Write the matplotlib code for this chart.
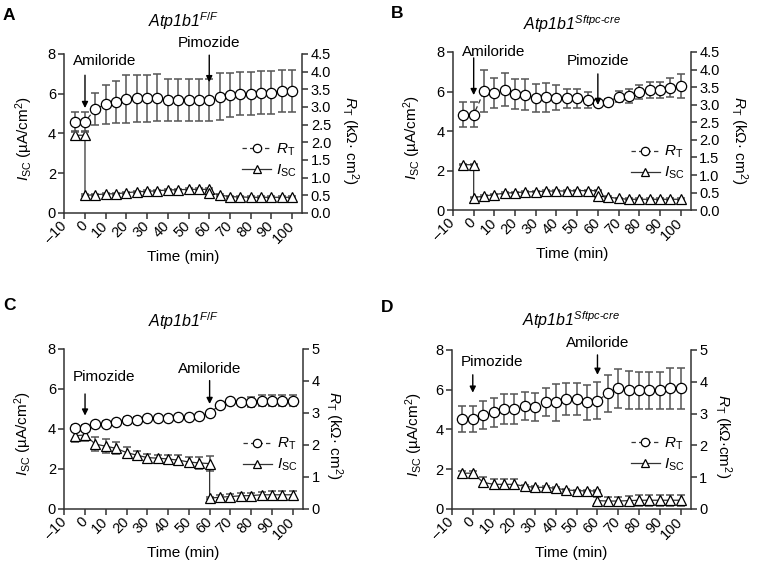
import numpy as np
import matplotlib
matplotlib.use('Agg')
import matplotlib.pyplot as plt
from matplotlib.lines import Line2D

plt.rcParams['font.family'] = ['Liberation Sans', 'DejaVu Sans']
plt.rcParams['mathtext.fontset'] = 'custom'
plt.rcParams['mathtext.rm'] = 'Liberation Sans'
plt.rcParams['mathtext.it'] = 'Liberation Sans:italic'
plt.rcParams['mathtext.bf'] = 'Liberation Sans:bold'

# time points (min)
t_rt = [-5, 0, 5, 10, 15, 20, 25, 30, 35, 40, 45, 50, 55, 60, 65, 70, 75, 80, 85, 90, 95, 100]
# amiloride at 0, pimozide at 60: two readings at 0 and at 60
t_isc_ab = [-5, 0, 0, 5, 10, 15, 20, 25, 30, 35, 40, 45, 50, 55, 60, 60, 65, 70, 75, 80, 85, 90, 95, 100]
# pimozide at 0, amiloride at 60: two readings at 60
t_isc_cd = [-5, 0, 5, 10, 15, 20, 25, 30, 35, 40, 45, 50, 55, 60, 60, 65, 70, 75, 80, 85, 90, 95, 100]

xticks = [-10, 0, 10, 20, 30, 40, 50, 60, 70, 80, 90, 100]
xticklabels = ['–10', '0', '10', '20', '30', '40', '50', '60', '70', '80', '90', '100']
yticks_left = [0, 2, 4, 6, 8]

# panel A: Atp1b1 F/F, amiloride then pimozide
rt_a = [2.58, 2.58, 2.95, 3.07, 3.14, 3.23, 3.24, 3.24, 3.26, 3.20, 3.20, 3.20, 3.20, 3.20,
        3.29, 3.34, 3.37, 3.37, 3.40, 3.40, 3.45, 3.45]
rt_a_err = [0.29, 0.29, 0.45, 0.56, 0.60, 0.68, 0.67, 0.67, 0.66, 0.60, 0.60, 0.60, 0.60, 0.60,
            0.66, 0.63, 0.61, 0.61, 0.61, 0.61, 0.59, 0.59]
isc_a = [3.91, 3.91, 0.89, 0.92, 0.96, 0.97, 1.02, 1.07, 1.09, 1.12, 1.16, 1.17, 1.19, 1.19,
         1.19, 1.02, 0.91, 0.82, 0.81, 0.79, 0.79, 0.79, 0.79, 0.79]
isc_a_err = [0.23, 0.23, 0.05, 0.05, 0.05, 0.05, 0.05, 0.05, 0.05, 0.05, 0.05, 0.05, 0.05, 0.05,
             0.05, 0.05, 0.05, 0.05, 0.05, 0.05, 0.05, 0.05, 0.05, 0.05]

# panel B: Atp1b1 Sftpc-cre, amiloride then pimozide
rt_b = [2.72, 2.72, 3.38, 3.34, 3.42, 3.30, 3.28, 3.19, 3.21, 3.20, 3.18, 3.18, 3.14, 3.05,
        3.08, 3.23, 3.26, 3.36, 3.42, 3.42, 3.48, 3.53]
rt_b_err = [0.35, 0.35, 0.60, 0.42, 0.47, 0.42, 0.44, 0.40, 0.42, 0.35, 0.26, 0.26, 0.23, 0.08,
            0.08, 0.15, 0.20, 0.20, 0.24, 0.24, 0.27, 0.34]
isc_b = [2.30, 2.30, 0.64, 0.71, 0.79, 0.86, 0.89, 0.92, 0.94, 0.96, 0.97, 0.97, 0.99, 0.99,
         0.99, 0.72, 0.66, 0.59, 0.55, 0.55, 0.55, 0.55, 0.55, 0.55]
isc_b_err = [0.04, 0.04, 0.04, 0.04, 0.04, 0.04, 0.04, 0.04, 0.04, 0.04, 0.04, 0.04, 0.04, 0.04,
             0.04, 0.04, 0.04, 0.04, 0.04, 0.04, 0.04, 0.04, 0.04, 0.04]

# panel C: Atp1b1 F/F, pimozide then amiloride
rt_c = [2.54, 2.54, 2.65, 2.65, 2.72, 2.77, 2.77, 2.83, 2.83, 2.83, 2.89, 2.89, 2.91, 2.99,
        3.26, 3.36, 3.33, 3.34, 3.39, 3.39, 3.39, 3.39]
rt_c_err = [0.10, 0.10, 0.08, 0.10, 0.04, 0.10, 0.10, 0.03, 0.03, 0.03, 0.03, 0.03, 0.03, 0.03,
            0.03, 0.03, 0.04, 0.15, 0.18, 0.18, 0.18, 0.18]
isc_c = [3.66, 3.70, 3.24, 3.14, 3.03, 2.82, 2.69, 2.57, 2.54, 2.50, 2.44, 2.35, 2.30, 2.27,
         0.54, 0.59, 0.62, 0.66, 0.67, 0.71, 0.71, 0.71, 0.71]
isc_c_err = [0.30, 0.30, 0.34, 0.34, 0.30, 0.27, 0.20, 0.17, 0.17, 0.20, 0.24, 0.27, 0.30, 0.37,
             0.05, 0.13, 0.13, 0.14, 0.15, 0.16, 0.17, 0.17, 0.17]

# panel D: Atp1b1 Sftpc-cre, pimozide then amiloride
rt_d = [2.83, 2.83, 2.97, 3.04, 3.14, 3.14, 3.25, 3.20, 3.35, 3.35, 3.46, 3.45, 3.35, 3.40,
        3.64, 3.79, 3.73, 3.73, 3.73, 3.73, 3.79, 3.79]
rt_d_err = [0.40, 0.40, 0.44, 0.46, 0.48, 0.48, 0.44, 0.44, 0.44, 0.58, 0.50, 0.50, 0.55, 0.58,
            0.58, 0.62, 0.60, 0.59, 0.59, 0.59, 0.64, 0.64]
isc_d = [1.80, 1.80, 1.34, 1.24, 1.24, 1.24, 1.14, 1.09, 1.09, 1.04, 0.96, 0.92, 0.91, 0.91,
         0.42, 0.40, 0.40, 0.42, 0.44, 0.44, 0.44, 0.44, 0.44]
isc_d_err = [0.13, 0.13, 0.25, 0.25, 0.25, 0.25, 0.08, 0.05, 0.05, 0.05, 0.05, 0.05, 0.05, 0.05,
             0.17, 0.20, 0.20, 0.24, 0.27, 0.27, 0.27, 0.27, 0.27]

AXC = '#333333'
ERRC = '#555555'
RT_DASH = (0, (3.5, 2.5))
ISC_LABEL = r'$\mathit{I}_{\mathrm{SC}}$ (µA/cm$^2$)'

fig = plt.figure(figsize=(7.58, 5.68), dpi=100)


def draw_panel(rect, letter, letter_xy, title, title_y, t_isc, isc, isc_err, rt, rt_err,
               rt_max, rt_ticks, rt_ticklabels, rt_label, lab_pos, drugs, leg_y):
    ax = fig.add_axes(rect)
    ax2 = ax.twinx()

    # I_SC on left axis
    ax.errorbar(t_isc, isc, yerr=isc_err, fmt='none', ecolor=ERRC, elinewidth=1.1,
                capsize=2.6, capthick=1.1, zorder=1)
    ax.plot(t_isc, isc, color=AXC, lw=0.9, marker='^', ms=7, mfc='white', mec='black',
            mew=0.9, zorder=2, clip_on=False)

    # R_T on right axis
    ax2.errorbar(t_rt, rt, yerr=rt_err, fmt='none', ecolor=ERRC, elinewidth=1.1,
                 capsize=2.6, capthick=1.1, zorder=1)
    ax2.plot(t_rt, rt, color=AXC, lw=0.9, ls=RT_DASH, marker='o', ms=7.4, mfc='white',
             mec='black', mew=0.9, zorder=2, clip_on=False)

    ax.set_xlim(-10, 105)
    ax.set_ylim(0, 8)
    ax2.set_ylim(0, rt_max)
    ax.set_xticks(xticks)
    ax.set_xticklabels(xticklabels, rotation=45, ha='right', va='center',
                       rotation_mode='anchor')
    ax.set_yticks(yticks_left)
    ax2.set_yticks(rt_ticks)
    ax2.set_yticklabels(rt_ticklabels)

    for a in (ax, ax2):
        a.spines['top'].set_visible(False)
        for s in a.spines.values():
            s.set_color(AXC)
            s.set_linewidth(1.1)
        a.tick_params(direction='out', length=4, width=1.1, color=AXC, labelsize=10.5,
                      pad=2)
    ax.spines['right'].set_visible(False)
    ax2.spines['left'].set_visible(False)
    ax2.spines['bottom'].set_visible(False)
    ax.tick_params(axis='x', pad=3.5)

    ax.set_xlabel('Time (min)', fontsize=11, labelpad=3)
    ax.text(lab_pos[0], lab_pos[1], ISC_LABEL, transform=ax.transAxes, fontsize=11,
            rotation=90, ha='center', va='center')
    ax2.text(lab_pos[2], lab_pos[3], rt_label, transform=ax2.transAxes, fontsize=11,
             rotation=270, ha='center', va='center')

    ax.set_title(title, fontsize=11.5, style='italic', y=title_y, pad=0)
    fig.text(letter_xy[0], letter_xy[1], letter, fontsize=12.5, fontweight='bold',
             ha='left', va='center')

    # drug additions: arrows drawn on top axes in left-axis data coords
    for name, x, tx, ty, ha, y0, y1 in drugs:
        ax2.text(tx, ty, name, transform=ax.transData, fontsize=11, ha=ha, va='center')
        ax2.annotate('', xy=(x, y1), xycoords=ax.transData, xytext=(x, y0),
                     textcoords=ax.transData,
                     arrowprops=dict(arrowstyle='-|>', color='black', lw=1.0,
                                     mutation_scale=9, shrinkA=0, shrinkB=0))

    handles = [
        Line2D([], [], color=AXC, lw=0.9, ls=RT_DASH, marker='o', ms=6, mfc='white',
               mec='black', mew=0.9),
        Line2D([], [], color=AXC, lw=0.9, marker='^', ms=6, mfc='white', mec='black',
               mew=0.9),
    ]
    labels = [r'$\mathit{R}_{\mathrm{T}}$', r'$\mathit{I}_{\mathrm{SC}}$']
    ax2.legend(handles, labels, loc='center right', bbox_to_anchor=(0.975, leg_y),
               frameon=False, fontsize=11, handlelength=1.9, handletextpad=0.3,
               labelspacing=0.3, borderpad=0, borderaxespad=0)
    return ax, ax2


RT_LABEL = r'$\mathit{R}_{\mathrm{T}}$ (kΩ· cm$^2$)'

draw_panel([0.0848, 0.625, 0.3142, 0.280], 'A', (0.004, 0.973),
           r'Atp1b1$^{\mathit{F/F}}$', 1.17,
           t_isc_ab, isc_a, isc_a_err, rt_a, rt_a_err, 4.5,
           [0, 0.5, 1, 1.5, 2, 2.5, 3, 3.5, 4, 4.5],
           ['0.0', '0.5', '1.0', '1.5', '2.0', '2.5', '3.0', '3.5', '4.0', '4.5'],
           RT_LABEL, (-0.17, 0.47, 1.2, 0.46),
           [('Amiloride', 0, -6.0, 7.64, 'left', 6.93, 5.28),
            ('Pimozide', 60, 60, 8.54, 'center', 7.94, 6.58)],
           0.33)

draw_panel([0.5976, 0.630, 0.3140, 0.2785], 'B', (0.516, 0.977),
           r'Atp1b1$^{\mathit{Sftpc\text{-}cre}}$', 1.14,
           t_isc_ab, isc_b, isc_b_err, rt_b, rt_b_err, 4.5,
           [0, 0.5, 1, 1.5, 2, 2.5, 3, 3.5, 4, 4.5],
           ['0.0', '0.5', '1.0', '1.5', '2.0', '2.5', '3.0', '3.5', '4.0', '4.5'],
           RT_LABEL, (-0.17, 0.46, 1.2, 0.44),
           [('Amiloride', 0, -5.8, 8.0, 'left', 7.7, 5.82),
            ('Pimozide', 60, 60, 7.54, 'center', 6.89, 5.32)],
           0.30)

draw_panel([0.0848, 0.1039, 0.3150, 0.2817], 'C', (0.004, 0.462),
           r'Atp1b1$^{\mathit{F/F}}$', 1.14,
           t_isc_cd, isc_c, isc_c_err, rt_c, rt_c_err, 5,
           [0, 1, 2, 3, 4, 5], ['0', '1', '2', '3', '4', '5'],
           RT_LABEL, (-0.17, 0.47, 1.13, 0.46),
           [('Pimozide', 0, -6.0, 6.6, 'left', 5.75, 4.67),
            ('Amiloride', 60, 60, 7.0, 'center', 6.42, 5.25)],
           0.34)

draw_panel([0.5963, 0.1039, 0.3153, 0.2800], 'D', (0.503, 0.459),
           r'Atp1b1$^{\mathit{Sftpc\text{-}cre}}$', 1.15,
           t_isc_cd, isc_d, isc_d_err, rt_d, rt_d_err, 5,
           [0, 1, 2, 3, 4, 5], ['0', '1', '2', '3', '4', '5'],
           r'$\mathit{R}_{\mathrm{T}}$ (kΩ·cm$^2$)', (-0.16, 0.47, 1.135, 0.46),
           [('Pimozide', 0, -5.8, 7.4, 'left', 6.75, 5.85),
            ('Amiloride', 60, 60, 8.35, 'center', 7.75, 6.75)],
           0.345)

fig.savefig('out.png', dpi=100)
